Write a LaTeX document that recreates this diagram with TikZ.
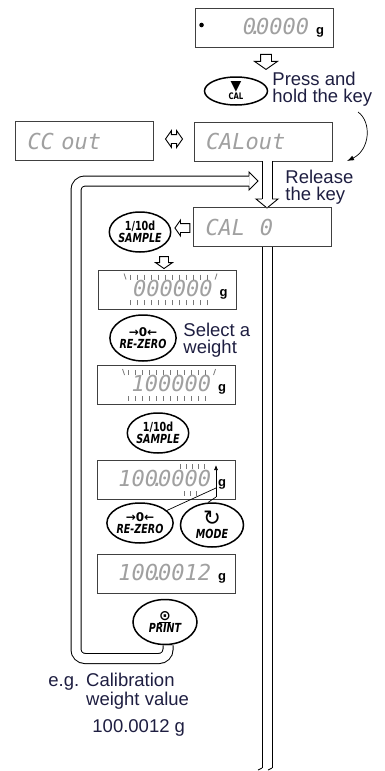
\documentclass[tikz,border=0pt]{standalone}
\usepackage{fontspec}
\setmainfont{Liberation Sans}
\newfontfamily\segfont{DejaVu Sans Mono}
\newfontfamily\keyfont{DejaVu Sans Condensed}[FakeStretch=0.85]
\newfontfamily\symfont{DejaVu Sans}
\usetikzlibrary{arrows.meta,calc,shapes.geometric,shapes.arrows}
\definecolor{labelc}{RGB}{30,30,65}
\definecolor{segc}{RGB}{160,160,160}
\definecolor{tickc}{RGB}{120,120,120}
\newcommand{\segpt}{\makebox[0pt]{.}}
\newcommand{\unitg}{\hspace{7pt}{\color{black}\normalfont\bfseries\fontsize{13}{13}\selectfont g}}

\begin{document}
\begin{tikzpicture}[
  x=1pt, y=1pt, line width=0.9pt,
  disp/.style={draw=black!75, minimum height=39pt, text width=120pt, inner xsep=9pt, align=right, text=segc, font=\segfont\itshape\fontsize{22}{22}\selectfont},
  displ/.style={disp, text width=114pt, inner xsep=12pt, align=left},
  key/.style={draw, ellipse, line width=1.5pt, inner sep=0pt, align=center, font=\keyfont\bfseries\fontsize{12.5}{12}\selectfont},
  note/.style={font=\fontsize{18.5}{17}\selectfont, text=labelc, align=left, inner sep=0pt},
  harrow/.style={draw, single arrow, inner sep=4pt, single arrow head extend=4pt, single arrow tip angle=110},
  dbl/.style={double, double distance=9pt, line width=1pt},
  blink/.style={draw=tickc, line width=0.8pt},
  thin/.style={line width=0.7pt}
]
\useasboundingbox (0,0) rectangle (385,-771);

% start and calibration key
\node[disp] (zero) at (264,-27.5) {0\segpt 0000\unitg};
\fill ($(zero.west)+(7,2.5)$) circle (2.3pt);
\node[harrow, rotate=-90, minimum height=15pt, inner sep=5pt, single arrow head extend=6pt] (a0) at (266,-60) {};
\node[key, minimum width=63pt, minimum height=28pt] (cal) at (236,-91) {{\symfont\fontsize{14}{14}\selectfont ▼}\\[-3pt]{\fontsize{9}{9}\selectfont CAL}};
\node[note, anchor=north west] (press) at (272,-72) {Press and\\hold the key};
\coordinate (holdA) at (358,-112);
\coordinate (holdB) at (347,-161);
\draw[thin, -{Latex[length=7pt,width=5pt]}] (holdA) .. controls (372,-122) and (370,-150) .. (holdB);

% CAL out / CC out
\node[displ] (ccout) at (84.5,-141) {CC~out};
\node[displ] (calout) at (263,-141.5) {CALout};
\node[draw, double arrow, minimum height=17pt, inner sep=4pt, double arrow head extend=4pt, double arrow tip angle=110] (swap) at (174,-139) {};
\node[note, anchor=north west] (release) at (285,-170) {Release\\the key};
\coordinate (reltip) at (267,-208);
\draw[dbl] (calout.south -| reltip) -- ($(reltip)+(0,9)$);
\draw ($(reltip)+(-5,9)$) -- ++(-6,0) -- (reltip) -- ++(11,9) -- ++(-6,0);

\node[displ] (calzero) at (262.5,-227) {CAL~~0};
\coordinate (bottom) at (267,-768);
\draw[dbl] (calzero.south -| reltip) -- (bottom);
\draw ($(bottom)+(-5,0)$) -- ++(-4,-2);
\draw ($(bottom)+(5,0)$) -- ++(-4,-2);

% weight selection
\node[key, minimum width=60pt, minimum height=40pt] (sampleA) at (140,-232) {1/10d\\\itshape SAMPLE};
\node[harrow, rotate=180, minimum height=15pt, inner sep=4pt, single arrow head extend=3.5pt] (a1) at (184,-228) {};
\node[harrow, rotate=-90, minimum height=12pt] (a2) at (164,-261) {};

\node[disp] (blinkA) at (167.5,-289.5) {000000\unitg};
\foreach \k in {0,...,11} {
  \draw[blink] ($(blinkA.north west)+(32+7*\k,-5)$) -- ++(0,-5);
  \draw[blink] ($(blinkA.south west)+(32+7*\k,4)$) -- ++(0,5);
}
\draw[blink] ($(blinkA.north west)+(26,-4)$) -- ++(2,-6);
\draw[blink] ($(blinkA.north west)+(119,-4)$) -- ++(-2,-6);

\node[key, minimum width=63pt, minimum height=46pt] (rezeroA) at (143,-338) {{\symfont\bfseries\fontsize{12}{12}\selectfont →0←}\\\itshape RE-ZERO};
\node[note, anchor=north west] (select) at (183,-323) {Select a\\weight};

\node[disp] (blinkB) at (166,-385) {100000\unitg};
\foreach \k in {0,...,11} {
  \draw[blink] ($(blinkB.north west)+(32+7*\k,-5)$) -- ++(0,-5);
  \draw[blink] ($(blinkB.south west)+(32+7*\k,4)$) -- ++(0,5);
}
\draw[blink] ($(blinkB.north west)+(26,-4)$) -- ++(2,-6);
\draw[blink] ($(blinkB.north west)+(119,-4)$) -- ++(-2,-6);

\node[key, minimum width=60pt, minimum height=40pt] (sampleB) at (158,-433) {1/10d\\\itshape SAMPLE};

% digit setting
\node[disp] (digit) at (166,-480) {100\segpt 0000\unitg};
\foreach \k in {0,...,4}
  \draw[blink] ($(digit.north west)+(84+6*\k,-4)$) -- ++(0,-5);
\foreach \k in {0,...,2}
  \draw[blink] ($(digit.south west)+(88+6*\k,4)$) -- ++(0,5);
\coordinate (up) at (216,-465);
\coordinate (upmid) at (216,-488);
\coordinate (upfoot) at (216,-497);
\draw[thin, -{Latex[length=5pt,width=4pt]}] (upfoot) -- (up);

\node[key, minimum width=64pt, minimum height=40pt] (rezeroB) at (140,-523) {{\symfont\bfseries\fontsize{12}{12}\selectfont →0←}\\\itshape RE-ZERO};
\node[key, minimum width=63pt, minimum height=44pt] (modekey) at (212,-525) {{\symfont\mdseries\scalebox{1.7}{↻}}\\[1pt]\itshape MODE};
\draw[thin] (rezeroB.25) -- (upmid);
\draw[thin] (modekey.100) -- (upfoot);

\node[disp] (result) at (166,-574) {100\segpt 0012\unitg};
\node[key, minimum width=64pt, minimum height=45pt] (print) at (165,-622) {{\symfont\fontsize{14}{14}\selectfont\underline{⊙}}\\\itshape PRINT};

% back to the start
\coordinate (looptip) at (258,-181);
\draw[dbl, rounded corners=9pt] ([xshift=3pt]print.south) -- (168,-658.5) -- (76,-658.5) -- (76,-181) -- ($(looptip)+(-9,0)$);
\draw ($(looptip)+(-9,5)$) -- ++(0,4) -- (looptip) -- ++(-9,-9) -- ++(0,4);

\node[note, anchor=north west] (eg) at (48,-673) {e.g. Calibration\\\phantom{e.g. }weight value};
\node[note, anchor=north west] (value) at (92,-719) {100.0012 g};
\end{tikzpicture}
\end{document}
